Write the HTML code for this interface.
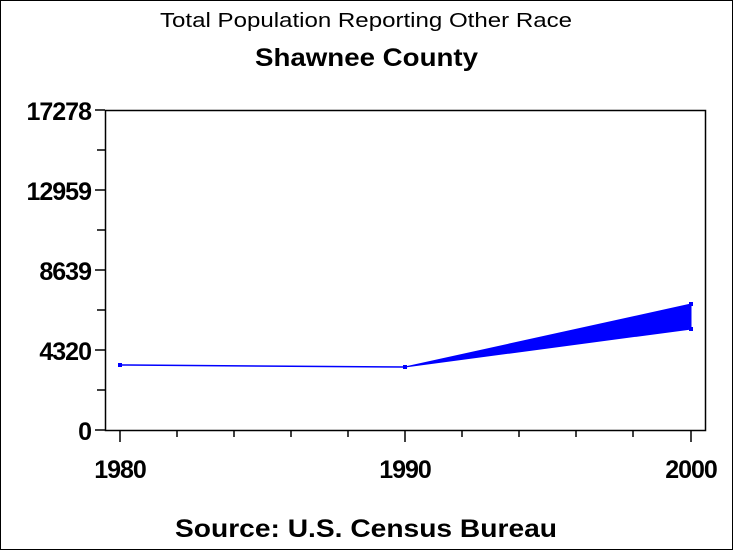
<!DOCTYPE html>
<html><head><style>
body{margin:0;background:#fff}
svg{display:block}
text{font-family:"Liberation Sans",Arial,sans-serif;fill:#000}
</style></head><body>
<svg width="733" height="550" viewBox="0 0 733 550" xmlns="http://www.w3.org/2000/svg">
<rect x="0.5" y="0.5" width="732" height="549" fill="#fff" stroke="#000"/>
<text x="160" y="27" font-size="20" textLength="412" lengthAdjust="spacingAndGlyphs">Total Population Reporting Other Race</text>
<text x="255" y="66" font-size="25" font-weight="bold" textLength="223" lengthAdjust="spacingAndGlyphs">Shawnee County</text>
<rect x="105.5" y="110.5" width="600" height="320" fill="none" stroke="#000" stroke-width="1.5"/>
<g stroke="#000" stroke-width="1.5">
<line x1="95" y1="110" x2="105" y2="110"/><line x1="95" y1="190" x2="105" y2="190"/><line x1="95" y1="270" x2="105" y2="270"/><line x1="95" y1="350" x2="105" y2="350"/><line x1="95" y1="430" x2="105" y2="430"/>
<line x1="97" y1="150" x2="105" y2="150"/><line x1="97" y1="230" x2="105" y2="230"/><line x1="97" y1="310" x2="105" y2="310"/><line x1="97" y1="390" x2="105" y2="390"/>
<line x1="120" y1="430" x2="120" y2="442"/><line x1="405" y1="430" x2="405" y2="442"/><line x1="691" y1="430" x2="691" y2="442"/>
<line x1="177" y1="430" x2="177" y2="437"/><line x1="234" y1="430" x2="234" y2="437"/><line x1="291" y1="430" x2="291" y2="437"/><line x1="348" y1="430" x2="348" y2="437"/>
<line x1="462" y1="430" x2="462" y2="437"/><line x1="519" y1="430" x2="519" y2="437"/><line x1="576" y1="430" x2="576" y2="437"/><line x1="633" y1="430" x2="633" y2="437"/>
</g>
<g font-size="25" font-weight="bold" text-anchor="end" letter-spacing="-1">
<text x="91" y="120">17278</text><text x="91" y="200">12959</text><text x="91" y="280">8639</text><text x="91" y="360">4320</text><text x="91" y="440">0</text>
</g>
<g font-size="25" font-weight="bold" text-anchor="middle" letter-spacing="-1">
<text x="120" y="478">1980</text><text x="405" y="478">1990</text><text x="691" y="478">2000</text>
</g>
<polyline points="120,365 405,367" fill="none" stroke="#00f" stroke-width="1.5"/>
<polygon points="405,367 691,304 691,329" fill="#00f" stroke="#00f"/>
<rect x="118" y="363" width="4" height="4" fill="#00f"/>
<rect x="403" y="365" width="4" height="4" fill="#00f"/>
<rect x="689" y="302" width="4" height="4" fill="#00f"/>
<rect x="689" y="327" width="4" height="4" fill="#00f"/>
<text x="175" y="537" font-size="25" font-weight="bold" textLength="382" lengthAdjust="spacingAndGlyphs">Source: U.S. Census Bureau</text>
</svg>
</body></html>
